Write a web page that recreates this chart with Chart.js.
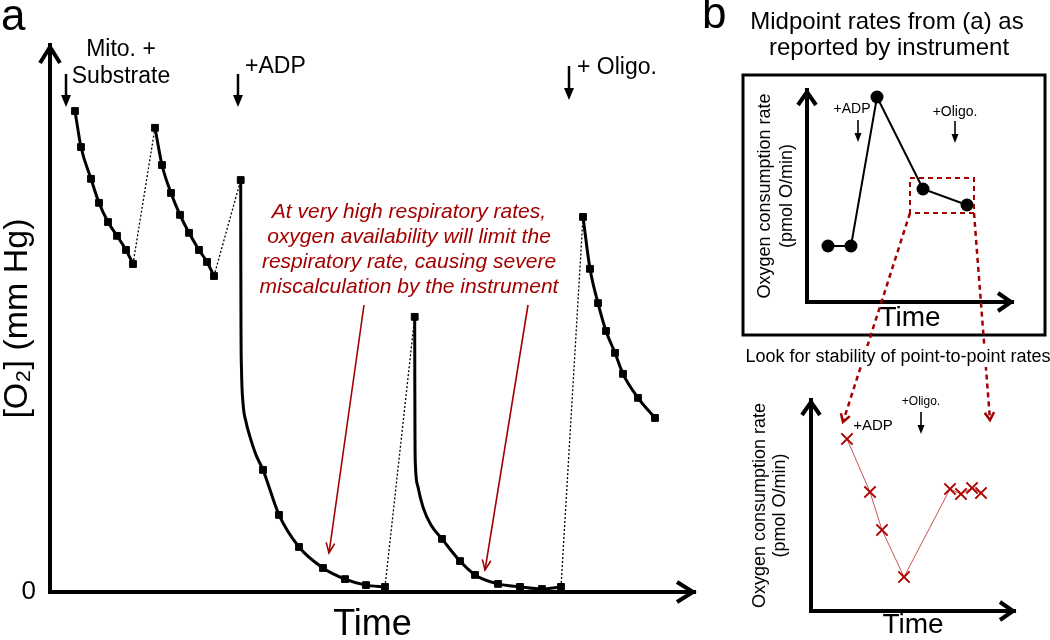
<!DOCTYPE html>
<html>
<head>
<meta charset="utf-8">
<script src="https://cdn.jsdelivr.net/npm/chart.js@4.4.1/dist/chart.umd.min.js"></script>
<style>
html, body { margin: 0; padding: 0; background: #fff; }
#wrap { position: relative; width: 1050px; height: 640px; overflow: hidden; }
#wrap canvas { position: absolute; left: 0; top: 0; }
</style>
</head>
<body>
<div id="wrap">
  <canvas id="chartA" width="1050" height="660"></canvas>
  <canvas id="chartB1" width="1050" height="660"></canvas>
  <canvas id="chartB2" width="1050" height="660"></canvas>
</div>
<script>
// ---- panel a: O2 trace (time in s, O2 in mm Hg) ----
const seg1Time = [25, 31, 41, 49, 58, 67, 76, 83];
const seg1O2 = [160.3, 148.3, 137.7, 129.7, 123.3, 118.7, 114, 109.3];
const seg2Time = [105, 112, 121, 130, 139, 149, 157, 164];
const seg2O2 = [154.7, 142.3, 133, 125.7, 119.7, 114, 110, 105.3];
const seg3Time = [190.7, 213, 229, 249, 273, 295, 316, 335];
const seg3O2 = [137.3, 40.7, 25.7, 15, 8, 4.3, 2.3, 1.7];
const seg3TraceTime = [190.8, 191, 191.5, 193, 196, 200, 206];   // unsampled part of the steep drop
const seg3TraceO2 = [110.7, 87.3, 74, 63, 56.7, 51.7, 45.7];
const seg4Time = [364.7, 392, 410, 425, 448, 470, 492, 511];
const seg4O2 = [91.7, 17.7, 10.3, 5.7, 2.7, 1.7, 1, 1.7];
const seg4TraceTime = [364.8, 365, 365.5, 368, 373, 381];
const seg4TraceO2 = [70.7, 50.7, 41.7, 35, 28.3, 22.3];
const seg5Time = [533, 540, 548, 556, 565, 573, 588, 605];
const seg5O2 = [125, 107.7, 96.3, 87, 79.7, 72.7, 64.7, 58];
const yTicksA = [0];

const eventTimes = [16, 188, 519];
const eventLabels = [['Mito. +', 'Substrate'], ['+ADP'], ['+ Oligo.']];
const noteLines = ['At very high respiratory rates,', 'oxygen availability will limit the',
                   'respiratory rate, causing severe', 'miscalculation by the instrument'];
const noteTargetTime = [279, 435];
const noteTargetO2 = [13, 7.3];

// ---- panel b: midpoint rates and point-to-point rates ----
const midTime = [21, 44, 70, 116, 160];
const midRate = [56, 56, 205, 113, 97];
const midEventTimes = [51, 148];
const midEventLabels = ['+ADP', '+Oligo.'];
const p2pTime = [36, 59, 71, 93, 139, 150, 161, 170];
const p2pRate = [172, 119, 81, 34, 122, 117, 123, 118];
const p2pEventTimes = [62, 110];
const p2pEventLabels = ['+ADP', '+Oligo.'];

const FONT = '"Liberation Sans", Arial, sans-serif';
const RED = '#a30000';
Chart.defaults.font.family = FONT;
Chart.defaults.color = '#000';

function pts(xs, ys) {
    return xs.map((v, i) => ({ x: v, y: ys[i] }));
}

// helpers for the annotation drawing
function axisHeads(ctx, a, w, h, lw) {
    ctx.lineWidth = lw;
    ctx.lineJoin = 'miter';
    ctx.beginPath();
    ctx.moveTo(a.left - w, a.top + h + 2);
    ctx.lineTo(a.left, a.top + 2);
    ctx.lineTo(a.left + w, a.top + h + 2);
    ctx.stroke();
    ctx.beginPath();
    ctx.moveTo(a.right - h - 2, a.bottom - w);
    ctx.lineTo(a.right - 2, a.bottom);
    ctx.lineTo(a.right - h - 2, a.bottom + w);
    ctx.stroke();
}

function downArrow(ctx, x, y0, y1, hw, hh, lw) {
    ctx.lineWidth = lw;
    ctx.beginPath();
    ctx.moveTo(x, y0);
    ctx.lineTo(x, y1 - hh + 1);
    ctx.stroke();
    ctx.beginPath();
    ctx.moveTo(x - hw / 2, y1 - hh);
    ctx.lineTo(x + hw / 2, y1 - hh);
    ctx.lineTo(x, y1);
    ctx.closePath();
    ctx.fill();
}

function openHead(ctx, x0, y0, x1, y1, len, ang) {
    const th = Math.atan2(y1 - y0, x1 - x0);
    ctx.beginPath();
    ctx.moveTo(x1 - len * Math.cos(th - ang), y1 - len * Math.sin(th - ang));
    ctx.lineTo(x1, y1);
    ctx.lineTo(x1 - len * Math.cos(th + ang), y1 - len * Math.sin(th + ang));
    ctx.stroke();
}

// ---------------- panel a ----------------
const segments = [
    { t: seg1Time, o2: seg1O2 },
    { t: seg2Time, o2: seg2O2 },
    { t: seg3Time, o2: seg3O2, traceT: seg3TraceTime, traceO2: seg3TraceO2 },
    { t: seg4Time, o2: seg4O2, traceT: seg4TraceTime, traceO2: seg4TraceO2 },
    { t: seg5Time, o2: seg5O2 },
];

const markerSets = [];
const curveSets = [];
const gapSets = [];
segments.forEach((s, i) => {
    const readings = pts(s.t, s.o2);
    markerSets.push({
        data: readings, showLine: false, pointStyle: 'rect', pointRadius: 4.8,
        pointBackgroundColor: '#000', pointBorderColor: '#000', pointBorderWidth: 1,
    });
    let trace = readings;
    if (s.traceT) {
        trace = readings.concat(pts(s.traceT, s.traceO2)).sort((p, q) => p.x - q.x);
    }
    curveSets.push({
        data: trace, borderColor: '#000', borderWidth: 3, pointRadius: 0,
        cubicInterpolationMode: 'monotone',
    });
    if (i < segments.length - 1) {
        const n = segments[i + 1];
        gapSets.push({
            data: [{ x: s.t[s.t.length - 1], y: s.o2[s.o2.length - 1] }, { x: n.t[0], y: n.o2[0] }],
            borderColor: '#000', borderWidth: 1.3, borderDash: [2, 2], pointRadius: 0, tension: 0,
        });
    }
});

const panelAPlugin = {
    id: 'panelA',
    afterDraw(chart) {
        const { ctx, chartArea: a, scales: { x, y } } = chart;
        ctx.save();
        ctx.strokeStyle = '#000';
        ctx.fillStyle = '#000';
        axisHeads(ctx, a, 10, 16, 4);

        ctx.textAlign = 'left';
        ctx.textBaseline = 'alphabetic';
        ctx.font = '44px ' + FONT;
        ctx.fillText('a', 1, 30);

        // additions
        const tops = [74, 74, 66];
        const tips = [107, 107, 100];
        eventTimes.forEach((t, i) => downArrow(ctx, x.getPixelForValue(t), tops[i], tips[i], 10, 12, 2.5));
        ctx.font = '23px ' + FONT;
        ctx.textBaseline = 'middle';
        ctx.textAlign = 'center';
        const mx = x.getPixelForValue(eventTimes[0]) + 55;
        ctx.fillText(eventLabels[0][0], mx, 50);
        ctx.fillText(eventLabels[0][1], mx, 77);
        ctx.textAlign = 'left';
        ctx.fillText(eventLabels[1][0], x.getPixelForValue(eventTimes[1]) + 7, 67);
        ctx.fillText(eventLabels[2][0], x.getPixelForValue(eventTimes[2]) + 8, 68);

        // red note and its arrows
        ctx.fillStyle = RED;
        ctx.strokeStyle = RED;
        ctx.font = 'italic 21px ' + FONT;
        ctx.textAlign = 'center';
        noteLines.forEach((line, i) => ctx.fillText(line, 409, 212 + i * 25));
        const starts = [[364, 305], [528, 305]];
        ctx.lineWidth = 1.6;
        noteTargetTime.forEach((t, i) => {
            const x1 = x.getPixelForValue(t);
            const y1 = y.getPixelForValue(noteTargetO2[i]);
            ctx.beginPath();
            ctx.moveTo(starts[i][0], starts[i][1]);
            ctx.lineTo(x1, y1);
            ctx.stroke();
            openHead(ctx, starts[i][0], starts[i][1], x1, y1, 11, 0.4);
        });
        ctx.restore();
    },
};

new Chart(document.getElementById('chartA'), {
    type: 'line',
    data: { datasets: markerSets.concat(curveSets, gapSets) },
    options: {
        responsive: false,
        devicePixelRatio: 1,
        animation: false,
        events: [],
        layout: { padding: { left: 0, top: 45, right: 355, bottom: 17 } },
        plugins: { legend: { display: false }, tooltip: { enabled: false } },
        scales: {
            x: {
                type: 'linear', min: 0, max: 645,
                grid: { display: false, drawTicks: false },
                border: { display: true, color: '#000', width: 4 },
                ticks: { display: false },
                title: { display: true, text: 'Time', color: '#000', font: { size: 36, lineHeight: 1 }, padding: 0 },
                afterFit: s => { s.height = 51; },
            },
            y: {
                type: 'linear', min: 0, max: 182.3,
                grid: { display: false, drawTicks: false },
                border: { display: true, color: '#000', width: 4 },
                afterBuildTicks: s => { s.ticks = yTicksA.map(v => ({ value: v })); },
                ticks: { color: '#000', font: { size: 26 }, padding: 14, callback: v => String(v) },
                title: { display: true, text: '[O₂] (mm Hg)', color: '#000', font: { size: 34, lineHeight: 1 }, padding: { top: 1, bottom: 0 } },
                afterFit: s => { s.width = 50; },
            },
        },
    },
    plugins: [panelAPlugin],
});

// ---------------- panel b, top ----------------
function zoomRect(chart) {
    const { x, y } = chart.scales;
    const n = midTime.length;
    return {
        l: x.getPixelForValue(midTime[n - 2]) - 13,
        r: x.getPixelForValue(midTime[n - 1]) + 7,
        t: y.getPixelForValue(midRate[n - 2]) - 11,
        b: y.getPixelForValue(midRate[n - 1]) + 8,
    };
}

const panelB1Plugin = {
    id: 'panelB1',
    afterDraw(chart) {
        const { ctx, chartArea: a, scales: { x } } = chart;
        ctx.save();
        ctx.strokeStyle = '#000';
        ctx.fillStyle = '#000';
        axisHeads(ctx, a, 9, 13, 4);

        ctx.textBaseline = 'alphabetic';
        ctx.textAlign = 'left';
        ctx.font = '44px ' + FONT;
        ctx.fillText('b', 702, 28);

        ctx.textBaseline = 'middle';
        ctx.textAlign = 'center';
        ctx.font = '24px ' + FONT;
        ctx.fillText('Midpoint rates from (a) as', 887, 22);
        ctx.fillText('reported by instrument', 889, 48);

        ctx.lineWidth = 3;
        ctx.strokeRect(743, 75, 302, 260);

        ctx.font = '14px ' + FONT;
        const ax0 = x.getPixelForValue(midEventTimes[0]);
        const ax1 = x.getPixelForValue(midEventTimes[1]);
        ctx.fillText(midEventLabels[0], ax0 - 6, 109);
        ctx.fillText(midEventLabels[1], ax1, 112);
        downArrow(ctx, ax0, 120, 142, 7, 9, 1.6);
        downArrow(ctx, ax1, 121, 143, 7, 9, 1.6);

        const r = zoomRect(chart);
        ctx.strokeStyle = RED;
        ctx.lineWidth = 2;
        ctx.setLineDash([5, 4]);
        ctx.strokeRect(r.l, r.t, r.r - r.l, r.b - r.t);
        ctx.restore();
    },
};

const chartB1 = new Chart(document.getElementById('chartB1'), {
    type: 'line',
    data: {
        datasets: [{
            data: pts(midTime, midRate),
            borderColor: '#000', borderWidth: 2, tension: 0,
            pointStyle: 'circle', pointRadius: 6.5,
            pointBackgroundColor: '#000', pointBorderColor: '#000', pointBorderWidth: 0,
        }],
    },
    options: {
        responsive: false,
        devicePixelRatio: 1,
        animation: false,
        events: [],
        layout: { padding: { left: 750, top: 90, right: 37, bottom: 328 } },
        plugins: { legend: { display: false }, tooltip: { enabled: false } },
        scales: {
            x: {
                type: 'linear', min: 0, max: 206,
                grid: { display: false, drawTicks: false },
                border: { display: true, color: '#000', width: 4 },
                ticks: { display: false },
                title: { display: true, text: 'Time', color: '#000', font: { size: 28, lineHeight: 1 }, padding: 0 },
                afterFit: s => { s.height = 30; },
            },
            y: {
                type: 'linear', min: 0, max: 212,
                grid: { display: false, drawTicks: false },
                border: { display: true, color: '#000', width: 4 },
                ticks: { display: false },
                title: {
                    display: true, text: ['Oxygen consumption rate', '(pmol O/min)'], color: '#000',
                    font: { size: 18, lineHeight: 1.25 }, padding: { top: 3.75, bottom: 0 },
                },
                afterFit: s => { s.width = 57; },
            },
        },
    },
    plugins: [panelB1Plugin],
});

// ---------------- panel b, bottom ----------------
const panelB2Plugin = {
    id: 'panelB2',
    afterDraw(chart) {
        const { ctx, chartArea: a, scales: { x, y } } = chart;
        ctx.save();
        ctx.strokeStyle = '#000';
        ctx.fillStyle = '#000';
        axisHeads(ctx, a, 9, 13, 4);

        ctx.textBaseline = 'middle';
        ctx.textAlign = 'center';
        ctx.font = '15px ' + FONT;
        ctx.fillText(p2pEventLabels[0], x.getPixelForValue(p2pEventTimes[0]), 426);
        const ox = x.getPixelForValue(p2pEventTimes[1]);
        ctx.font = '12px ' + FONT;
        ctx.fillText(p2pEventLabels[1], ox, 402);
        downArrow(ctx, ox, 412, 434, 7, 9, 1.6);

        // dashed connectors from the zoom box above
        const r = zoomRect(chartB1);
        const n = p2pTime.length;
        const fx = x.getPixelForValue(p2pTime[0]);
        const fy = y.getPixelForValue(p2pRate[0]);
        const lines = [
            [r.l, r.b, fx - 4, fy - 17],
            [r.r, r.b, x.getPixelForValue(p2pTime[n - 1]) + 9, fy - 19],
        ];
        ctx.strokeStyle = RED;
        ctx.lineWidth = 2.5;
        lines.forEach(l => {
            ctx.setLineDash([5, 4]);
            ctx.beginPath();
            ctx.moveTo(l[0], l[1]);
            ctx.lineTo(l[2], l[3]);
            ctx.stroke();
            ctx.setLineDash([]);
            openHead(ctx, l[0], l[1], l[2], l[3], 9, 0.55);
        });

        const label = 'Look for stability of point-to-point rates';
        ctx.font = '18px ' + FONT;
        const w = ctx.measureText(label).width;
        ctx.fillStyle = '#fff';
        ctx.fillRect(898 - w / 2 - 2, 346, w + 4, 21);
        ctx.fillStyle = '#000';
        ctx.fillText(label, 898, 357);
        ctx.restore();
    },
};

new Chart(document.getElementById('chartB2'), {
    type: 'line',
    data: {
        datasets: [{
            data: pts(p2pTime, p2pRate),
            borderColor: '#c45555', borderWidth: 1, tension: 0,
            pointStyle: 'crossRot', pointRadius: 8,
            pointBorderColor: '#b00000', pointBorderWidth: 2,
        }],
    },
    options: {
        responsive: false,
        devicePixelRatio: 1,
        animation: false,
        events: [],
        layout: { padding: { left: 748, top: 400, right: 35, bottom: 21 } },
        plugins: { legend: { display: false }, tooltip: { enabled: false } },
        scales: {
            x: {
                type: 'linear', min: 0, max: 204,
                grid: { display: false, drawTicks: false },
                border: { display: true, color: '#000', width: 4 },
                ticks: { display: false },
                title: { display: true, text: 'Time', color: '#000', font: { size: 28, lineHeight: 1 }, padding: 0 },
                afterFit: s => { s.height = 28; },
            },
            y: {
                type: 'linear', min: 0, max: 211,
                grid: { display: false, drawTicks: false },
                border: { display: true, color: '#000', width: 4 },
                ticks: { display: false },
                title: {
                    display: true, text: ['Oxygen consumption rate', '(pmol O/min)'], color: '#000',
                    font: { size: 18, lineHeight: 1.1 }, padding: { top: 2.1, bottom: 0 },
                },
                afterFit: s => { s.width = 63; },
            },
        },
    },
    plugins: [panelB2Plugin],
});
</script>
</body>
</html>
